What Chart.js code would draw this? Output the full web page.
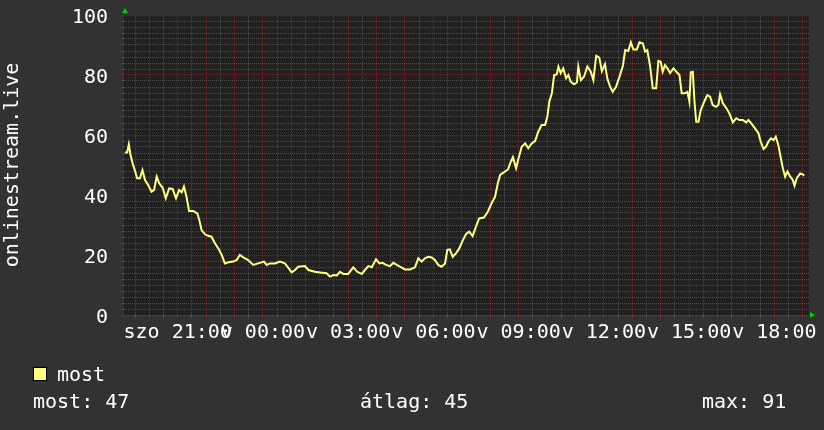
<!DOCTYPE html>
<html>
<head>
<meta charset="utf-8">
<script src="https://cdn.jsdelivr.net/npm/chart.js@4/dist/chart.umd.min.js"></script>
<style>
html, body { margin: 0; padding: 0; background: #323232; }
canvas { display: block; background: #323232; }
</style>
</head>
<body>
<canvas id="myChart" width="824" height="430"></canvas>
<script>
// ora: 24 = vasarnap 00:00
const ora = [19.14,19.22,19.28,19.34,19.43,19.49,19.57,19.67,19.76,19.85,19.96,20.08,20.17,20.26,20.35,20.47,20.58,20.70,20.82,20.94,
  21.05,21.14,21.22,21.31,21.40,21.55,21.69,21.76,21.84,21.96,22.07,22.19,22.31,22.43,22.55,22.66,22.78,22.95,23.07,23.19,
  23.31,23.48,23.66,23.83,24.04,24.13,24.25,24.42,24.60,24.77,24.89,25.01,25.13,25.24,25.48,25.60,25.83,26.07,26.24,26.36,
  26.48,26.60,26.71,26.83,27.00,27.18,27.32,27.48,27.59,27.71,27.83,27.98,28.10,28.21,28.33,28.47,28.59,28.71,28.82,29.00,
  29.18,29.35,29.47,29.59,29.70,29.82,29.94,30.06,30.17,30.29,30.41,30.49,30.58,30.68,30.80,30.91,31.03,31.15,31.26,31.38,
  31.50,31.61,31.78,31.92,32.06,32.17,32.27,32.35,32.49,32.63,32.71,32.80,32.91,32.99,33.11,33.23,33.34,33.46,33.58,33.69,
  33.81,33.93,34.01,34.08,34.17,34.25,34.34,34.40,34.48,34.57,34.67,34.75,34.83,34.95,35.05,35.10,35.19,35.30,35.42,35.54,
  35.63,35.73,35.84,35.93,36.04,36.12,36.22,36.31,36.43,36.55,36.67,36.75,36.86,36.95,37.04,37.16,37.25,37.37,37.45,37.53,
  37.63,37.72,37.84,37.92,38.00,38.07,38.15,38.24,38.33,38.45,38.57,38.66,38.74,38.86,38.94,39.01,39.06,39.13,39.19,39.25,
  39.33,39.41,39.53,39.64,39.74,39.83,39.95,40.03,40.09,40.19,40.33,40.44,40.54,40.66,40.77,40.89,41.01,41.09,41.21,41.32,
  41.44,41.52,41.62,41.71,41.79,41.88,41.97,42.05,42.14,42.23,42.30,42.38,42.46,42.56,42.65,42.71,42.79,42.91,43.00,43.05];

const nezok = [54.2,54.2,56.9,53.3,50.0,48.3,45.6,45.6,48.3,45.0,43.3,41.1,41.7,46.1,43.9,42.4,38.9,42.2,42.0,38.9,
  41.7,40.9,42.8,39.4,34.7,34.7,33.9,31.7,28.3,26.9,26.4,26.1,23.9,22.2,20.0,17.2,17.6,17.8,18.3,20.0,
  19.2,18.3,16.7,17.2,17.8,16.7,17.2,17.2,17.8,17.2,15.8,14.2,15.0,16.1,16.3,15.0,14.4,14.1,13.9,12.8,
  13.3,13.2,14.4,13.7,13.7,15.9,14.4,13.7,15.0,16.3,15.9,18.6,17.2,17.4,16.7,16.3,17.4,16.7,16.1,15.2,
  15.2,15.9,18.9,17.8,18.9,19.4,19.2,18.3,16.7,16.1,17.2,21.7,21.9,19.4,20.6,22.2,24.8,27.0,27.8,26.3,
  29.5,32.2,32.5,34.5,37.5,39.4,44.0,46.7,47.6,48.6,50.8,52.6,48.9,52.0,56.1,57.2,55.6,57.2,58.0,61.1,
  63.3,63.3,66.1,71.1,73.9,80.0,80.2,82.8,80.6,82.2,78.9,80.0,77.8,76.9,77.5,82.8,78.3,79.4,82.8,81.1,
  78.3,86.4,85.8,81.3,83.6,78.9,76.1,74.4,76.1,79.4,83.1,88.3,88.0,90.9,88.5,88.5,90.9,90.6,87.8,88.3,
  82.8,75.6,75.6,84.7,84.4,81.1,83.3,82.2,80.6,82.2,80.9,80.0,73.9,73.9,74.4,71.1,80.9,81.1,71.1,64.4,
  64.4,68.3,71.1,73.3,72.8,70.0,69.4,70.0,73.6,70.6,68.7,66.7,64.2,65.6,65.0,65.0,64.2,65.0,63.6,62.2,
  60.6,57.8,55.3,56.1,57.8,58.9,58.3,59.4,56.7,52.2,48.9,46.1,47.8,46.1,45.0,43.1,45.6,47.2,46.9,46.4];

const tickOrak = [21, 24, 27, 30, 33, 36, 39, 42];
const tickFeliratok = ['szo 21:00', 'v 00:00', 'v 03:00', 'v 06:00', 'v 09:00', 'v 12:00', 'v 15:00', 'v 18:00'];
const yFeliratok = [0, 20, 40, 60, 80, 100];
const jelmagyarazat = 'most';
const statok = ['most: 47', 'átlag: 45', 'max: 91'];

const betu = 'DejaVu Sans Mono';
const piros = 'rgba(170,50,50,0.55)';
const szurke = 'rgba(140,140,140,0.38)';

const hatter = {
  id: 'hatter',
  beforeDraw(chart) {
    const {ctx, chartArea: a} = chart;
    ctx.save();
    ctx.fillStyle = '#212121';
    ctx.fillRect(a.left, a.top, a.right - a.left, a.bottom - a.top);
    ctx.restore();
  }
};

const extrak = {
  id: 'extrak',
  afterDraw(chart) {
    const {ctx, chartArea: a} = chart;
    ctx.save();
    // zold nyilak
    ctx.fillStyle = '#00cc00';
    ctx.beginPath();
    ctx.moveTo(a.left - 2, a.top - 2);
    ctx.lineTo(a.left + 4, a.top - 2);
    ctx.lineTo(a.left + 1, a.top - 7);
    ctx.closePath();
    ctx.fill();
    ctx.beginPath();
    ctx.moveTo(a.right + 1, a.bottom - 3);
    ctx.lineTo(a.right + 1, a.bottom + 3);
    ctx.lineTo(a.right + 6, a.bottom);
    ctx.closePath();
    ctx.fill();

    // jelmagyarazat
    ctx.fillStyle = '#ffff80';
    ctx.fillRect(33, 367, 14, 14);
    ctx.strokeStyle = '#000';
    ctx.lineWidth = 1;
    ctx.strokeRect(33.5, 367.5, 13, 13);
    ctx.fillStyle = '#ffffff';
    ctx.font = '20px "' + betu + '"';
    ctx.textBaseline = 'alphabetic';
    ctx.fillText(jelmagyarazat, 57, 381);
    ctx.fillText(statok[0], 33, 408);
    ctx.fillText(statok[1], 360, 408);
    ctx.fillText(statok[2], 702, 408);
    ctx.restore();
  }
};

const data = {
  datasets: [{
    label: jelmagyarazat,
    data: ora.map((o, i) => ({x: o, y: nezok[i]})),
    borderColor: '#ffff80',
    borderWidth: 2,
    pointRadius: 0,
    tension: 0,
    fill: false
  }]
};

const config = {
  type: 'line',
  data: data,
  options: {
    responsive: false,
    animation: false,
    layout: { padding: { top: 15, right: 15, left: 0, bottom: 0 } },
    plugins: {
      legend: { display: false },
      tooltip: { enabled: false }
    },
    scales: {
      x: {
        type: 'linear',
        min: 19.11,
        max: 43.22,
        afterFit(scale) {
          scale.height = 115;
          scale.paddingLeft = 0;
          scale.paddingRight = 0;
        },
        afterBuildTicks(scale) {
          const t = [];
          for (let v = 19.5; v <= 43; v += 0.5) t.push({value: v});
          scale.ticks = t;
        },
        ticks: {
          autoSkip: false,
          maxRotation: 0,
          minRotation: 0,
          padding: 3,
          color: '#ffffff',
          font: { family: betu, size: 20 },
          callback(v) {
            const i = tickOrak.indexOf(v);
            return i >= 0 ? tickFeliratok[i] : '';
          }
        },
        grid: {
          color: ctx => (ctx.tick && Number.isInteger(ctx.tick.value)) ? piros : szurke,
          lineWidth: 1,
          tickLength: 3
        },
        border: { display: false, dash: [1, 1], dashOffset: 1 }
      },
      y: {
        min: 0,
        max: 100,
        afterFit(scale) {
          scale.width = 124;
          scale.paddingTop = 0;
          scale.paddingBottom = 0;
        },
        afterBuildTicks(scale) {
          const t = [];
          for (let v = 0; v <= 100; v += 2) t.push({value: v});
          scale.ticks = t;
        },
        ticks: {
          autoSkip: false,
          padding: 14,
          labelOffset: 3,
          color: '#ffffff',
          font: { family: betu, size: 20 },
          callback(v) { return yFeliratok.includes(v) ? String(v) : ''; }
        },
        grid: {
          color: ctx => (ctx.tick && ctx.tick.value % 20 === 0) ? piros : szurke,
          lineWidth: 1,
          tickLength: 2
        },
        border: { display: false, dash: [1, 1], dashOffset: 0 },
        title: {
          display: true,
          text: 'onlinestream.live',
          color: '#ffffff',
          font: { family: betu, size: 20 },
          padding: { top: 1, bottom: 0 }
        }
      }
    }
  },
  plugins: [hatter, extrak]
};

const myChart = new Chart(document.getElementById('myChart'), config);
</script>
</body>
</html>
